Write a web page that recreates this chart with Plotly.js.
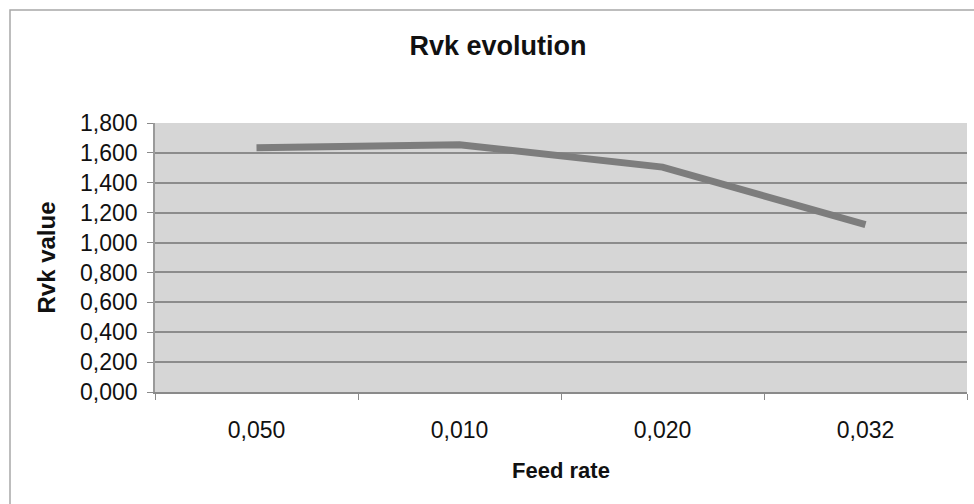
<!DOCTYPE html>
<html>
<head>
<meta charset="utf-8">
<script src="https://cdn.plot.ly/plotly-3.0.1.min.js"></script>
<style>
  html, body { margin: 0; padding: 0; background: #ffffff; }
  #chart { width: 974px; height: 504px; }
</style>
</head>
<body>
<div id="chart"></div>
<script>
// Data
const categories = ["0,050", "0,010", "0,020", "0,032"];
const rvkValues = [1.635, 1.655, 1.505, 1.12];
const yTickVals = [0, 0.2, 0.4, 0.6, 0.8, 1.0, 1.2, 1.4, 1.6, 1.8];
const yTickText = ["0,000", "0,200", "0,400", "0,600", "0,800", "1,000", "1,200", "1,400", "1,600", "1,800"];

const FONT = "'Liberation Sans', Arial, sans-serif";

const trace = {
  x: categories,
  y: rvkValues,
  type: "scatter",
  mode: "lines",
  line: { color: "#7d7d7d", width: 7 },
  hoverinfo: "x+y",
  showlegend: false
};

// outer chart frame (paper coords computed from plot area 155..967 x, 123..392 y)
const L = 155, R = 967, T = 123, B = 392;
const px2x = p => (p - L) / (R - L);
const px2y = p => (B - p) / (B - T);

const layout = {
  width: 974,
  height: 504,
  margin: { l: L, r: 974 - R, t: T, b: 504 - B, pad: 0 },
  paper_bgcolor: "#ffffff",
  plot_bgcolor: "#d6d6d6",
  showlegend: false,
  font: { family: FONT, color: "#111111", size: 23 },
  title: {
    text: "<b>Rvk evolution</b>",
    font: { family: FONT, size: 27, color: "#111111" },
    x: 498 / 974, xref: "container", xanchor: "center",
    y: 1 - 46 / 504, yref: "container", yanchor: "middle"
  },
  xaxis: {
    type: "category",
    range: [-0.5, categories.length - 0.5],
    showgrid: false,
    zeroline: false,
    showline: true,
    linecolor: "#8a8a8a",
    linewidth: 1.5,
    ticks: "outside",
    tickson: "boundaries",
    ticklen: 6,
    tickcolor: "#8a8a8a",
    ticklabelstandoff: 17,
    tickfont: { family: FONT, size: 23, color: "#111111" },
    title: {
      text: "<b>Feed rate</b>",
      font: { family: FONT, size: 22, color: "#111111" },
      standoff: 20
    },
    fixedrange: true
  },
  yaxis: {
    range: [0, 1.8],
    tickvals: yTickVals,
    ticktext: yTickText,
    showgrid: true,
    gridcolor: "#8c8c8c",
    gridwidth: 1.5,
    zeroline: false,
    showline: true,
    linecolor: "#9a9a9a",
    linewidth: 1.5,
    ticks: "outside",
    ticklen: 6,
    tickcolor: "#8a8a8a",
    ticklabelstandoff: 5,
    tickfont: { family: FONT, size: 23, color: "#111111" },
    title: {
      text: "<b>Rvk value</b>",
      font: { family: FONT, size: 24, color: "#111111" },
      standoff: 18
    },
    fixedrange: true
  },
  shapes: [
    {
      type: "rect", xref: "paper", yref: "paper",
      x0: px2x(10), x1: px2x(990), y0: px2y(520), y1: px2y(10),
      line: { color: "#a8a8a8", width: 1.5 },
      fillcolor: "rgba(0,0,0,0)",
      layer: "below"
    }
  ]
};

Plotly.newPlot("chart", [trace], layout, { displayModeBar: false, responsive: false });
</script>
</body>
</html>
